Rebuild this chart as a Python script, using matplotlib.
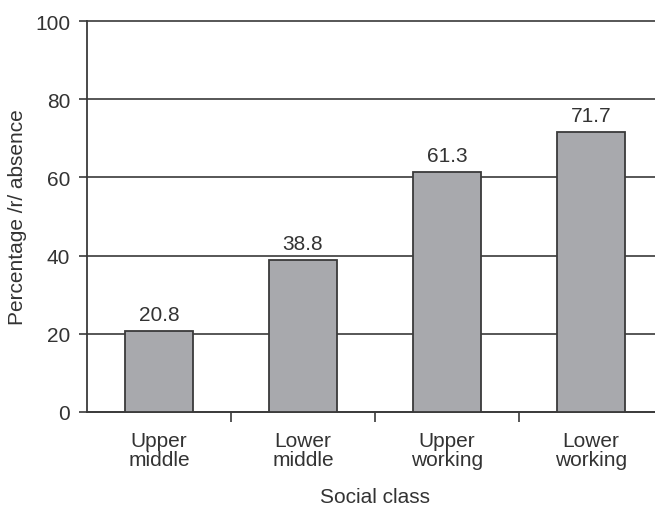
import matplotlib
matplotlib.use("Agg")
import matplotlib.pyplot as plt
import numpy as np

categories = ["Upper\nmiddle", "Lower\nmiddle", "Upper\nworking", "Lower\nworking"]
values = [20.8, 38.8, 61.3, 71.7]
value_labels = ["20.8", "38.8", "61.3", "71.7"]
yticks = [0, 20, 40, 60, 80, 100]

plt.rcParams['font.family'] = ['Liberation Sans', 'DejaVu Sans']
TXT = "#333333"
LINE = "#3a3a3a"

W, H = 655, 506
fig = plt.figure(figsize=(W / 100, H / 100), dpi=100)
left, right, top, bottom = 87, 655, 22, 413
ax = fig.add_axes([left / W, 1 - bottom / H, (right - left) / W, (bottom - top) / H])

x = np.arange(len(categories))
ax.bar(x, values, width=0.47, color="#a8a9ad", edgecolor=LINE, linewidth=1.3, zorder=3)
for xi, v, lab in zip(x, values, value_labels):
    ax.annotate(lab, (xi, v), xytext=(0, 5), textcoords="offset points",
                ha="center", va="bottom", fontsize=15, color=TXT, zorder=4)

ax.set_ylim(0, 100)
ax.set_xlim(-0.5, 3.5 - 8 / 144)
ax.set_yticks(yticks)
ax.set_yticklabels([str(t) for t in yticks])
ax.yaxis.grid(True, color=LINE, linewidth=1.2, zorder=1)
for gl in ax.yaxis.get_gridlines():
    gl.set_clip_on(False)
ax.set_axisbelow(True)

ax.set_xticks(x[:-1] + 0.5)
ax.set_xticklabels([])
ax.set_xticks(x, minor=True)
ax.set_xticklabels(categories, minor=True, fontsize=15, color=TXT, linespacing=1.0)
ax.tick_params(axis="x", which="minor", length=0, pad=14)
ax.tick_params(axis="x", which="major", length=7, width=1.2, color=LINE, direction="out")
ax.tick_params(axis="y", length=6, width=1.2, color=LINE, direction="out", labelsize=15,
               labelcolor=TXT, pad=6)

for s in ["top", "right"]:
    ax.spines[s].set_visible(False)
for s in ["left", "bottom"]:
    ax.spines[s].set_color(LINE)
    ax.spines[s].set_linewidth(1.3)

fig.text(18 / W, 1 - 217 / H, "Percentage /r/ absence", rotation=90, ha="center", va="center",
         fontsize=15, color=TXT)
fig.text((left + 576 / 2 + 0) / W, 1 - 498 / H, "Social class", ha="center", va="center",
         fontsize=15, color=TXT)

fig.savefig("out.png", dpi=100)
